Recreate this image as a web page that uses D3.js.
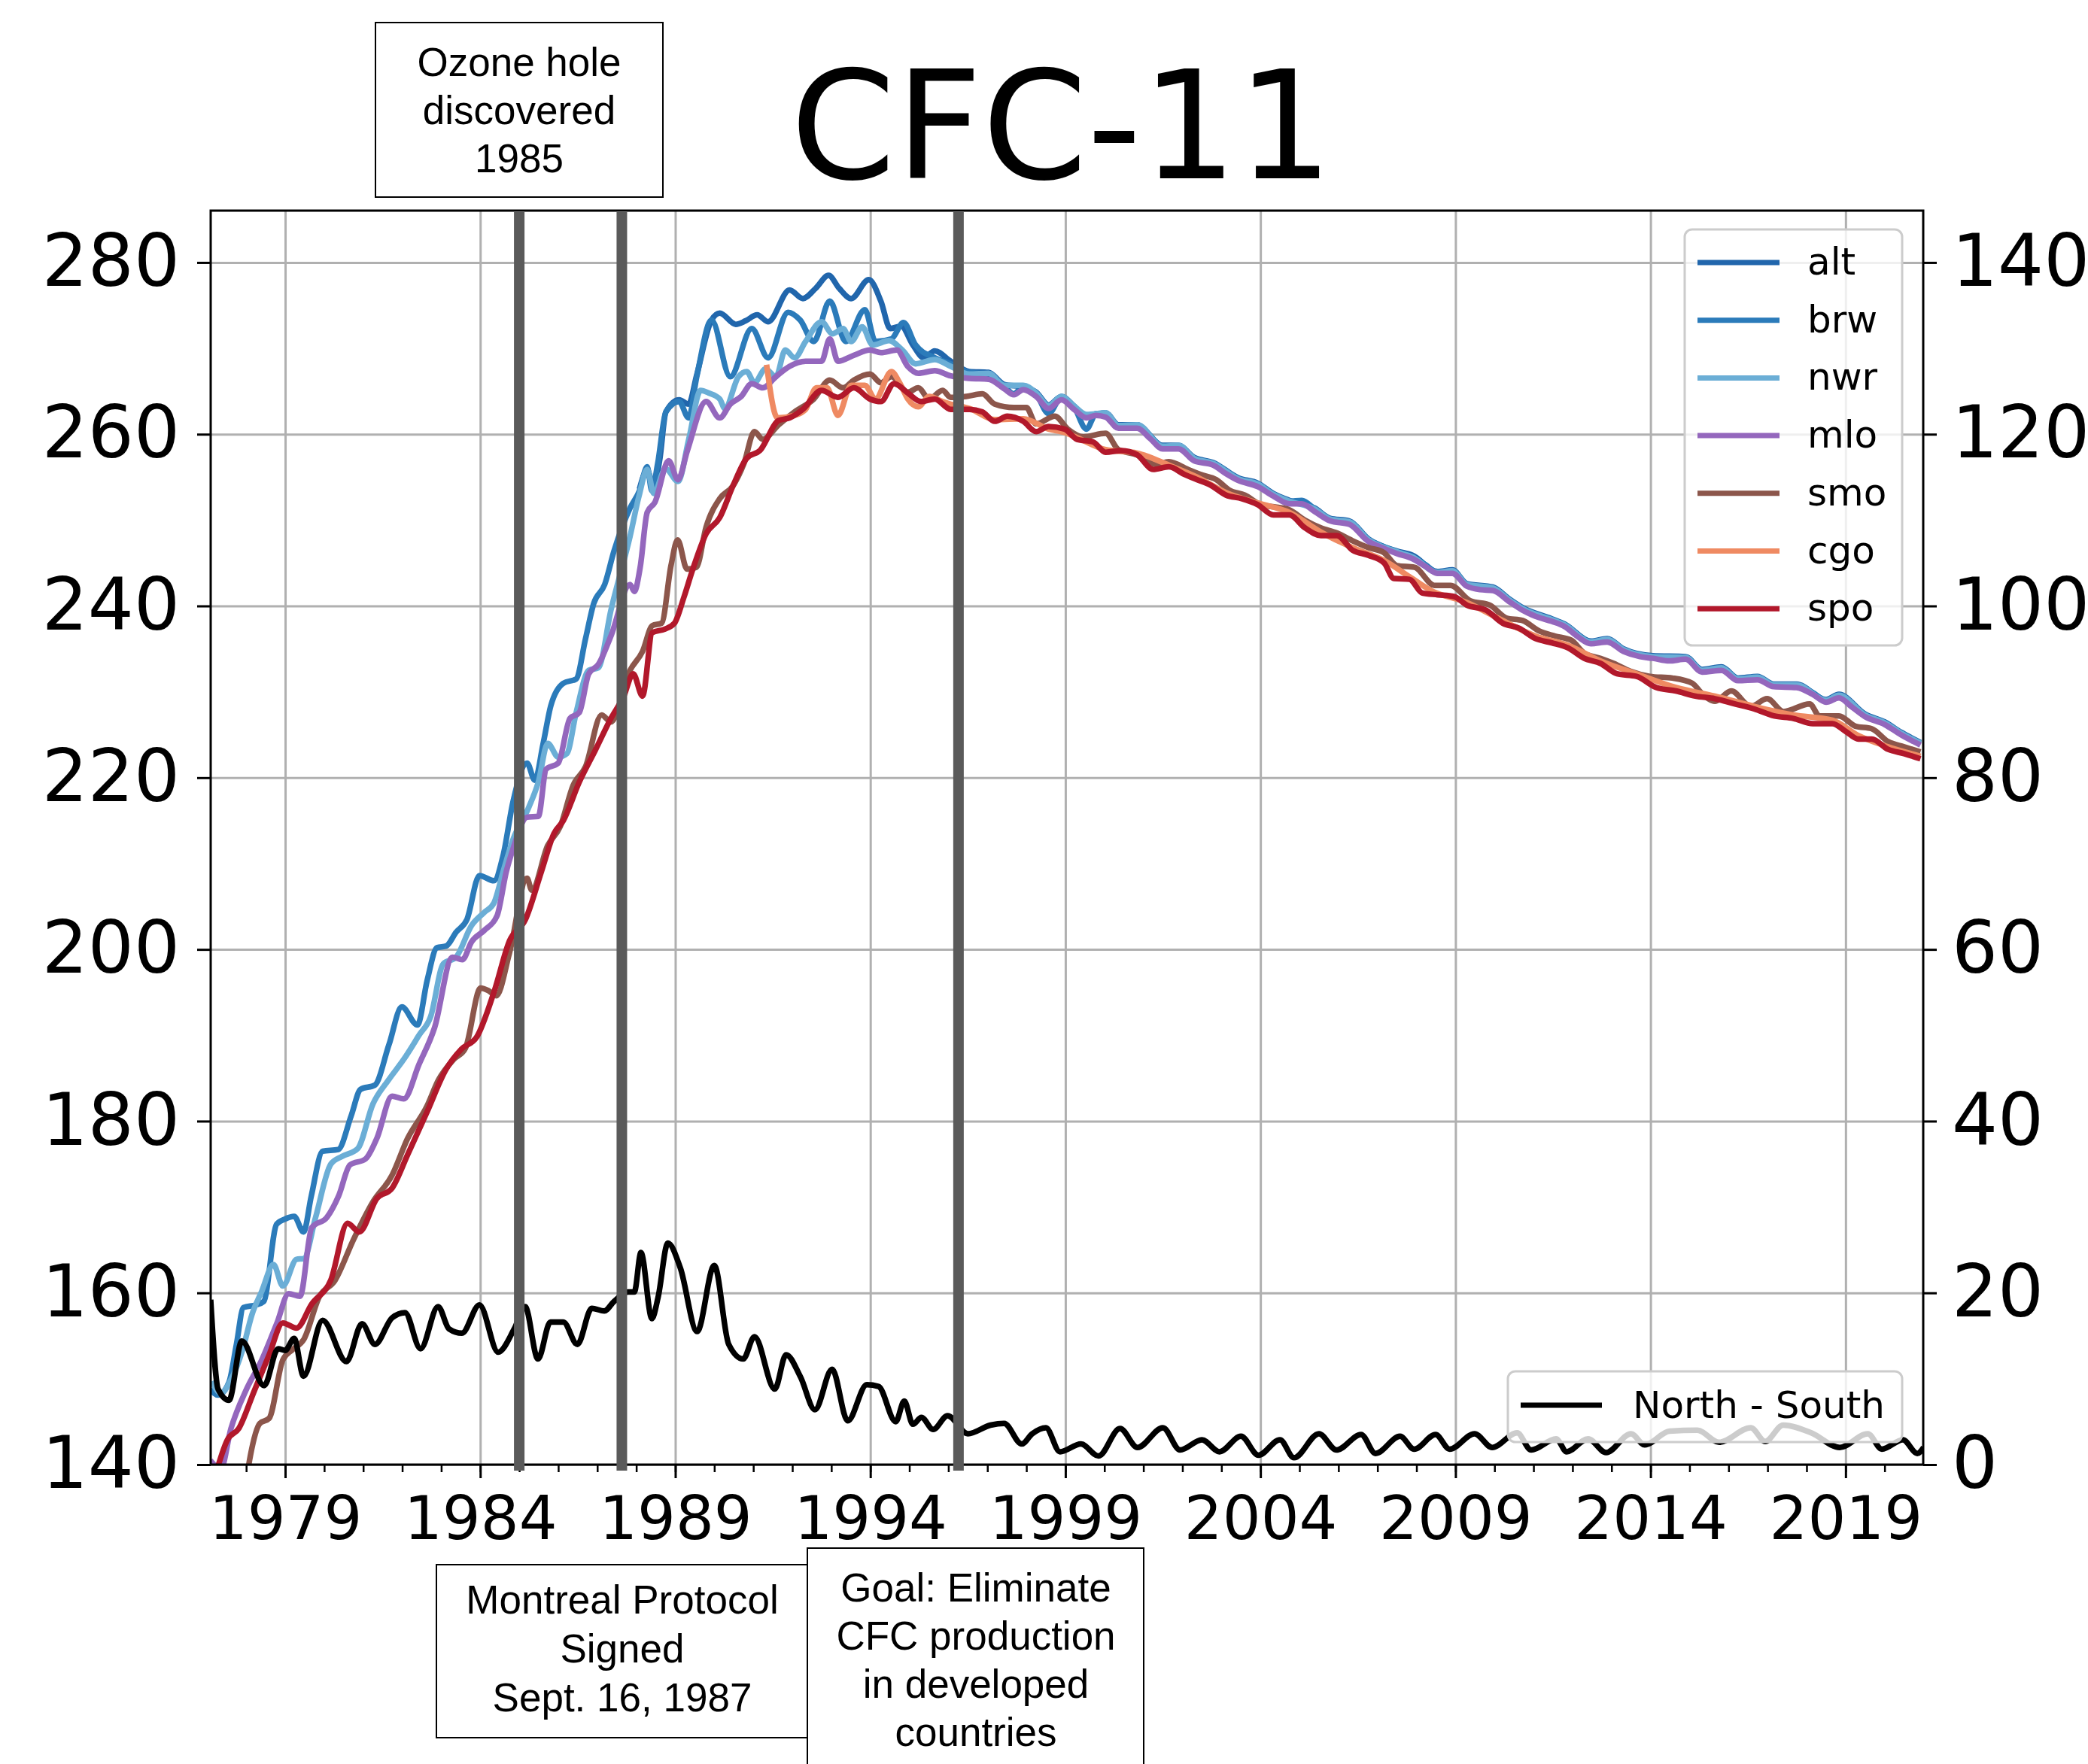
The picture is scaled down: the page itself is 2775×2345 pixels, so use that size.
<!DOCTYPE html>
<html>
<head>
<meta charset="utf-8">
<script src="https://cdn.jsdelivr.net/npm/d3@7/dist/d3.min.js"></script>
<style>
body { margin: 0; background: #fff; }
</style>
</head>
<body>
<script>

//station records, [decimal year, ppt]
var alt = [[1988.08,253.6],[1988.28,255.8],[1988.45,254.0],[1988.6,257.0],[1988.76,262.6],[1989.1,264.0],[1989.34,263.5],[1989.55,266.9],[1989.93,273.3],[1990.14,274.1],[1990.55,272.8],[1990.8,273.2],[1991.1,273.9],[1991.38,273.1],[1991.93,276.8],[1992.27,275.8],[1992.6,277.0],[1992.93,278.5],[1993.2,277.0],[1993.51,275.8],[1993.96,278.0],[1994.27,275.5],[1994.51,272.3],[1994.79,272.6],[1995.09,270.4],[1995.37,268.9],[1995.65,269.7],[1996.06,268.5],
    [1996.54,267.3],[1997.03,267.2],[1997.43,265.8],[1997.92,265.5],[1998.25,264.9],[1998.57,263.4],[1998.9,264.4],[1999.22,263.3],[1999.54,262.0],[2000.03,262.5],[2000.36,261.1],[2000.84,261.1],[2001.49,258.7],[2001.9,258.7],[2002.3,257.3],[2002.79,256.7],[2003.44,254.9],[2003.93,254.3],[2004.33,253.1],[2004.74,252.3],[2005.39,251.4],[2005.79,250.2],[2006.28,249.9],[2006.77,247.8],[2007.5,246.4],[2007.9,245.9],[2008.54,244.0],[2008.92,244.2],[2009.29,242.6],[2009.96,242.2],[2010.38,240.8],[2010.72,239.8],[2011.47,238.5],[2011.8,237.9],[2012.47,235.9],[2012.89,236.2],[2013.31,235.0],[2014.06,234.2],[2014.9,234.1],[2015.32,232.6],[2015.82,232.9],[2016.24,231.6],[2016.74,231.8],[2017.16,230.9],[2017.74,230.9],[2018.5,229.1],[2018.83,229.7],[2019.5,227.4],[2020.0,226.5],[2020.42,225.3],[2020.92,224.1]];

var brw = [[1977.08,148.8],[1977.28,148.1],[1977.56,149.6],[1977.75,154.0],[1977.93,158.3],[1978.25,158.6],[1978.45,159.0],[1978.78,168.0],[1979.0,168.6],[1979.23,168.9],[1979.47,167.1],[1979.67,171.3],[1979.96,176.5],[1980.36,176.7],[1980.69,180.6],[1980.93,183.7],[1981.3,184.2],[1981.66,188.9],[1981.99,193.3],[1982.39,191.2],[1982.64,196.4],[1982.89,200.2],[1983.13,200.4],[1983.38,202.0],[1983.66,203.5],[1983.98,208.6],[1984.35,208.0],[1984.59,211.0],[1984.84,217.2],[1985.2,221.7],[1985.4,219.7],[1985.61,223.9],[1985.81,228.4],[1986.13,231.0],[1986.46,231.5],[1986.7,236.2],[1986.91,240.3],[1987.19,242.5],[1987.43,246.4],[1987.84,251.4],[1988.08,253.4],[1988.28,256.2],[1988.4,253.4],[1988.55,256.6],[1988.76,262.6],[1989.1,263.8],[1989.34,261.9],[1989.55,266.7],[1989.93,273.3],[1990.41,266.7],[1990.96,272.3],[1991.38,268.9],[1991.89,274.2],[1992.2,273.3],[1992.55,270.8],[1992.96,275.5],[1993.37,270.8],[1993.86,274.5],[1994.13,270.8],[1994.54,271.1],[1994.85,273.0],[1995.16,270.4],[1995.65,268.9],[1996.06,268.2],
    [1996.54,267.2],[1997.03,267.0],[1997.43,265.6],[1997.68,264.7],[1997.92,265.6],[1998.25,264.7],[1998.57,262.4],[1998.9,264.3],[1999.22,263.2],[1999.54,260.6],[1999.79,262.4],[2000.03,262.4],[2000.36,261.0],[2000.84,261.0],[2001.17,259.8],[2001.49,258.6],[2001.9,258.6],[2002.3,257.2],[2002.79,256.6],[2003.12,255.7],[2003.44,254.8],[2003.93,254.2],[2004.33,253.0],[2004.74,252.2],[2005.06,252.3],[2005.39,251.3],[2005.79,250.0],[2006.28,249.8],[2006.77,247.7],[2007.01,247.2],[2007.5,246.3],[2007.9,245.7],[2008.23,244.8],[2008.54,243.9],[2008.92,244.1],[2009.29,242.4],[2009.63,242.2],[2009.96,242.0],[2010.38,240.7],[2010.72,239.7],[2011.05,239.0],[2011.47,238.4],[2011.8,237.8],[2012.14,236.6],[2012.47,235.8],[2012.89,236.1],[2013.31,234.9],[2013.73,234.3],[2014.06,234.1],[2014.48,233.9],[2014.9,234.0],[2015.32,232.5],[2015.82,232.8],[2016.24,231.5],[2016.74,231.7],[2017.16,230.8],[2017.74,230.8],[2018.16,229.9],[2018.5,229.0],[2018.83,229.6],[2019.17,228.4],[2019.5,227.3],[2020.0,226.4],[2020.42,225.2],[2020.92,224.0]];

var nwr = [[1977.12,149.7],[1977.35,148.3],[1977.6,149.8],[1977.91,153.4],[1978.15,157.5],[1978.4,160.2],[1978.7,163.3],[1978.94,160.8],[1979.29,163.9],[1979.48,164.0],[1979.78,168.8],[1980.17,175.0],[1980.46,175.9],[1980.86,176.8],[1981.25,182.0],[1981.65,184.8],[1982.04,187.2],[1982.43,190.0],[1982.73,192.2],[1983.05,198.3],[1983.38,199.1],[1983.78,202.8],[1984.1,204.3],[1984.35,205.4],[1984.59,209.1],[1984.84,212.8],[1985.24,216.5],[1985.49,219.5],[1985.73,224.0],[1986.0,222.4],[1986.22,222.8],[1986.46,227.6],[1986.78,232.5],[1987.03,232.8],[1987.35,239.5],[1987.84,248.1],[1988.07,252.8],[1988.28,255.9],[1988.45,253.1],[1988.75,256.0],[1989.07,254.5],[1989.35,259.5],[1989.65,265.1],[1989.86,264.8],[1990.14,264.1],[1990.27,263.0],[1990.62,266.7],[1990.83,267.3],[1991.03,266.0],[1991.31,267.6],[1991.58,266.7],[1991.82,269.8],[1992.06,268.9],[1992.34,270.8],[1992.75,273.1],[1993.03,271.7],[1993.3,272.3],[1993.51,270.8],[1993.79,272.5],[1994.06,270.4],[1994.48,270.9],[1994.82,269.8],[1995.16,268.2],[1995.65,268.7],[1996.06,267.9],
    [1996.54,267.0],[1997.03,267.1],[1997.43,265.7],[1997.92,265.7],[1998.25,264.8],[1998.57,263.3],[1998.9,264.4],[1999.22,263.3],[1999.54,262.3],[2000.03,262.5],[2000.36,261.0],[2000.84,261.1],[2001.49,258.6],[2001.9,258.7],[2002.3,257.2],[2002.79,256.6],[2003.44,254.8],[2003.93,254.2],[2004.33,253.0],[2004.74,252.2],[2005.39,251.3],[2005.79,250.1],[2006.28,249.8],[2006.77,247.7],[2007.5,246.3],[2007.9,245.7],[2008.54,243.9],[2008.92,244.1],[2009.29,242.5],[2009.96,242.1],[2010.38,240.7],[2010.72,239.7],[2011.47,238.4],[2011.8,237.8],[2012.47,235.8],[2012.89,236.1],[2013.31,234.9],[2014.06,234.1],[2014.9,234.0],[2015.32,232.5],[2015.82,232.8],[2016.24,231.5],[2016.74,231.7],[2017.16,230.8],[2017.74,230.8],[2018.5,229.0],[2018.83,229.6],[2019.5,227.3],[2020.0,226.4],[2020.42,225.2],[2020.92,224.0]];

var mlo = [[1977.08,140.5],[1977.35,139.5],[1977.61,144.2],[1978.01,148.8],[1978.4,152.2],[1978.79,156.5],[1979.09,159.9],[1979.38,159.6],[1979.68,167.6],[1980.07,168.8],[1980.37,171.3],[1980.66,174.9],[1981.06,175.6],[1981.35,178.0],[1981.74,182.9],[1982.04,182.6],[1982.43,186.6],[1982.83,190.9],[1983.29,199.1],[1983.54,198.8],[1983.78,200.9],[1984.1,202.2],[1984.43,203.9],[1984.67,209.1],[1984.84,211.7],[1985.2,215.4],[1985.49,215.5],[1985.69,221.0],[1986.0,221.7],[1986.3,226.9],[1986.54,227.6],[1986.78,232.1],[1987.03,233.2],[1987.35,236.5],[1987.84,242.5],[1987.95,241.7],[1988.1,244.5],[1988.28,250.9],[1988.48,252.1],[1988.83,256.9],[1989.07,254.7],[1989.31,258.1],[1989.79,263.8],[1990.14,261.9],[1990.41,263.5],[1990.69,264.4],[1990.96,265.9],[1991.24,265.4],[1991.58,266.7],[1991.93,267.9],[1992.34,268.5],[1992.75,268.5],[1992.96,271.1],[1993.17,268.5],[1993.58,269.2],[1993.99,269.8],[1994.27,269.5],[1994.68,269.8],[1994.96,267.9],[1995.23,267.1],[1995.65,267.4],[1996.06,266.8],
    [1996.54,266.5],[1997.03,266.4],[1997.43,265.3],[1997.68,264.6],[1997.92,265.2],[1998.25,264.4],[1998.57,263.0],[1998.9,264.0],[1999.22,262.9],[1999.54,261.9],[1999.79,262.2],[2000.03,262.0],[2000.36,260.7],[2000.84,260.7],[2001.17,259.5],[2001.49,258.3],[2001.9,258.3],[2002.3,256.9],[2002.79,256.4],[2003.12,255.4],[2003.44,254.6],[2003.93,253.9],[2004.33,252.8],[2004.74,251.9],[2005.06,251.9],[2005.39,251.0],[2005.79,249.9],[2006.28,249.5],[2006.77,247.5],[2007.01,247.0],[2007.5,246.1],[2007.9,245.5],[2008.23,244.6],[2008.54,243.8],[2008.92,243.8],[2009.29,242.3],[2009.63,241.9],[2009.96,241.8],[2010.38,240.5],[2010.72,239.5],[2011.05,238.8],[2011.47,238.2],[2011.8,237.6],[2012.14,236.4],[2012.47,235.6],[2012.89,235.8],[2013.31,234.7],[2013.73,234.1],[2014.06,233.9],[2014.48,233.6],[2014.9,233.8],[2015.32,232.3],[2015.82,232.5],[2016.24,231.3],[2016.74,231.4],[2017.16,230.6],[2017.74,230.5],[2018.16,229.7],[2018.5,228.8],[2018.83,229.3],[2019.17,228.2],[2019.5,227.1],[2020.0,226.2],[2020.42,225.0],[2020.92,223.8]];

var smo = [[1977.95,136.5],[1978.11,141.1],[1978.35,144.8],[1978.59,145.4],[1978.94,152.2],[1979.19,153.4],[1979.48,154.6],[1979.88,159.6],[1980.27,161.4],[1980.76,166.3],[1981.25,170.6],[1981.74,173.7],[1982.14,178.0],[1982.63,181.7],[1982.93,184.8],[1983.32,187.2],[1983.62,188.5],[1984.01,195.5],[1984.21,195.2],[1984.41,194.6],[1984.75,199.6],[1985.2,208.3],[1985.32,206.9],[1985.73,212.1],[1986.05,214.3],[1986.38,219.1],[1986.7,221.3],[1987.11,227.3],[1987.35,226.5],[1987.84,232.5],[1988.16,234.7],[1988.41,237.7],[1988.65,238.0],[1988.89,244.7],[1989.06,247.7],[1989.3,244.3],[1989.54,244.5],[1989.79,249.2],[1990.14,252.5],[1990.48,254.0],[1990.76,256.6],[1991.03,260.3],[1991.24,259.4],[1991.65,261.1],[1992.06,262.6],[1992.55,264.1],[1992.96,266.3],[1993.3,265.4],[1993.58,266.3],[1993.99,267.0],[1994.27,266.0],[1994.54,266.7],[1994.96,264.9],[1995.23,265.4],[1995.51,264.1],[1995.85,265.1],[1996.06,264.3],
    [1996.46,264.4],[1996.87,264.7],[1997.19,263.5],[1997.68,263.1],[1998.0,263.1],[1998.25,261.2],[1998.73,262.1],[1999.06,260.6],[1999.46,259.7],[2000.03,260.1],[2000.36,258.2],[2000.84,257.6],[2001.33,256.5],[2001.65,256.8],[2002.14,255.9],[2002.47,255.3],[2002.87,254.7],[2003.2,253.5],[2003.6,252.9],[2004.01,251.8],[2004.41,251.5],[2004.74,251.2],[2005.14,250.0],[2005.55,249.1],[2005.96,248.5],[2006.36,247.6],[2006.77,246.8],[2007.17,246.2],[2007.5,244.7],[2007.95,244.5],[2008.46,242.4],[2008.87,242.4],[2009.38,240.6],[2009.88,240.1],[2010.3,238.6],[2010.72,238.3],[2011.14,237.1],[2011.55,236.5],[2011.97,236.0],[2012.3,234.5],[2012.72,233.9],[2013.06,233.3],[2013.48,232.4],[2013.98,231.8],[2014.56,231.6],[2015.07,231.0],[2015.32,229.8],[2015.65,228.9],[2016.07,230.1],[2016.57,228.3],[2016.99,229.2],[2017.41,227.7],[2018.08,228.6],[2018.33,227.2],[2018.83,227.2],[2019.25,226.0],[2019.67,225.7],[2020.09,224.2],[2020.5,223.6],[2020.92,223.0]];

var cgo = [[1991.34,268.1],[1991.62,261.9],[1992.06,262.2],[1992.34,262.9],[1992.62,265.4],[1992.89,265.4],[1993.17,262.2],[1993.51,265.7],[1993.86,265.7],[1994.13,264.1],[1994.54,267.3],[1994.75,266.0],[1994.96,264.1],[1995.23,263.2],[1995.51,264.4],[1995.85,263.8],[1996.06,263.5],
    [1996.54,263.0],[1997.19,261.7],[1997.92,261.8],[1998.57,260.6],[1998.98,260.2],[1999.3,259.6],[2000.03,258.2],[2000.84,257.8],[2001.65,256.4],[2002.38,255.0],[2003.12,253.2],[2003.93,252.0],[2004.74,250.9],[2005.55,248.6],[2006.36,246.8],[2007.17,245.3],[2007.82,243.4],[2008.37,241.8],[2009.29,240.4],[2010.21,238.3],[2011.05,236.5],[2011.89,235.4],[2012.72,233.6],[2013.64,232.1],[2014.65,230.5],[2015.65,229.5],[2016.66,228.3],[2017.66,227.3],[2018.66,226.7],[2019.33,224.9],[2020.09,223.6],[2020.92,222.5]];

var spo = [[1977.2,138.6],[1977.52,142.9],[1977.81,144.2],[1978.2,148.5],[1978.59,152.8],[1978.94,156.5],[1979.29,155.9],[1979.68,158.7],[1980.17,161.5],[1980.6,168.1],[1980.9,167.1],[1981.35,171.0],[1981.74,172.2],[1982.14,176.1],[1982.63,181.0],[1983.12,186.0],[1983.52,188.4],[1983.91,189.8],[1984.35,195.0],[1984.75,201.0],[1985.16,203.5],[1985.57,209.1],[1985.89,213.5],[1986.13,215.0],[1986.54,219.5],[1986.95,223.2],[1987.35,226.9],[1987.68,229.5],[1987.92,232.1],[1988.16,229.5],[1988.41,236.9],[1988.73,237.3],[1988.98,238.0],[1989.22,241.0],[1989.45,244.3],[1989.79,248.4],[1990.14,250.3],[1990.48,254.0],[1990.83,257.2],[1991.17,258.1],[1991.65,261.6],[1991.93,261.9],[1992.27,262.9],[1992.75,265.1],[1993.17,264.3],[1993.58,265.4],[1993.99,264.1],[1994.27,263.8],[1994.61,265.9],[1994.96,264.8],[1995.3,263.8],[1995.65,264.1],[1996.06,262.9],
    [1996.54,262.9],[1996.87,262.6],[1997.19,261.5],[1997.51,262.1],[1997.92,261.5],[1998.25,260.3],[1998.57,260.9],[1998.98,260.6],[1999.3,259.4],[1999.71,259.1],[2000.03,257.9],[2000.44,258.1],[2000.84,257.6],[2001.25,255.9],[2001.65,256.2],[2002.06,255.3],[2002.38,254.7],[2002.71,254.1],[2003.12,252.9],[2003.52,252.5],[2003.93,251.8],[2004.33,250.6],[2004.74,250.6],[2005.14,249.1],[2005.55,248.2],[2005.96,248.2],[2006.36,246.5],[2006.77,245.9],[2007.17,245.0],[2007.42,243.2],[2007.82,243.1],[2008.15,241.5],[2008.54,241.3],[2008.96,241.1],[2009.29,240.1],[2009.79,239.5],[2010.21,238.0],[2010.63,237.4],[2011.05,236.2],[2011.47,235.7],[2011.89,235.1],[2012.3,233.9],[2012.72,233.3],[2013.14,232.1],[2013.64,231.8],[2014.15,230.5],[2014.65,230.1],[2015.15,229.5],[2015.65,229.2],[2016.15,228.6],[2016.66,228.0],[2017.16,227.2],[2017.66,226.9],[2018.16,226.3],[2018.66,226.3],[2019.0,225.4],[2019.33,224.5],[2019.67,224.5],[2020.09,223.3],[2020.5,222.8],[2020.92,222.2]];

//north minus south difference, right axis
var northSouth = [[1977.09,19.2],[1977.28,8.8],[1977.56,7.5],[1977.89,14.4],[1978.46,9.2],[1978.82,13.5],[1979.0,13.3],[1979.23,14.7],[1979.47,10.3],[1979.96,16.8],[1980.57,12.0],[1980.97,16.4],[1981.3,14.0],[1981.74,17.1],[1982.07,17.7],[1982.47,13.5],[1982.92,18.4],[1983.2,15.8],[1983.53,15.3],[1983.98,18.6],[1984.46,13.1],[1984.87,15.8],[1985.15,18.4],[1985.48,12.3],[1985.8,16.6],[1986.13,16.6],[1986.49,14.0],[1986.86,18.2],[1987.18,17.9],[1987.43,19.0],[1987.79,20.1],[1987.95,20.1],[1988.12,24.7],[1988.4,17.0],[1988.56,19.5],[1988.81,25.8],[1989.13,22.9],[1989.56,15.5],[1990.0,23.2],[1990.37,14.0],[1990.74,12.3],[1991.03,14.9],[1991.55,8.8],[1991.84,12.8],[1992.21,10.2],[1992.58,6.4],[1993.02,11.1],[1993.42,5.1],[1993.91,9.3],[1994.21,9.1],[1994.65,5.0],[1994.87,7.4],[1995.09,4.7],[1995.31,5.5],[1995.61,4.1],[1995.98,5.7],[1996.5,3.6],[1997.08,4.6],[1997.43,4.8],[1997.88,2.4],[1998.15,3.6],[1998.5,4.3],[1998.86,1.5],[1999.4,2.4],[1999.85,1.0],[2000.4,4.2],[2000.85,2.0],[2001.5,4.3],[2001.94,1.7],[2002.5,2.9],[2002.95,1.5],[2003.5,3.3],[2003.95,1.1],[2004.5,2.9],[2004.86,0.8],[2005.5,3.6],[2005.95,1.7],[2006.58,3.5],[2006.95,1.3],[2007.58,3.3],[2007.94,1.8],[2008.49,3.5],[2008.85,1.8],[2009.49,3.6],[2009.94,2.0],[2010.58,3.7],[2010.94,1.7],[2011.58,3.0],[2011.85,1.5],[2012.4,3.0],[2012.86,1.4],[2013.5,3.6],[2013.85,2.3],[2014.49,3.9],[2015.2,4.0],[2015.76,2.6],[2016.57,4.3],[2016.94,2.7],[2017.4,4.6],[2018.12,3.7],[2018.85,2.0],[2019.57,3.6],[2019.93,1.8],[2020.47,2.9],[2020.84,1.3],[2021.0,2.0]];

var stationNames = ["alt", "brw", "nwr", "mlo", "smo", "cgo", "spo"];
var stationColors = ["#2166ac", "#2b7bba", "#6baed6", "#9467bd", "#8c564b", "#ef8a62", "#b2182b"];

//axis ticks
var yearTicks = [1979, 1984, 1989, 1994, 1999, 2004, 2009, 2014, 2019];
var minorYears = d3.range(1978, 2021);
var leftTicks = [140, 160, 180, 200, 220, 240, 260, 280];
var rightTicks = [0, 20, 40, 60, 80, 100, 120, 140];

//policy events, vertical bars
var eventYears = [1985.0, 1987.63, 1996.26];
var ozoneText = ["Ozone hole", "discovered", "1985"];
var montrealText = ["Montreal Protocol", "Signed", "Sept. 16, 1987"];
var goalText = ["Goal: Eliminate", "CFC production", "in developed", "countries"];

window.onload = drawChart;

function drawChart(){

    var width = 2775,
        height = 2345;

    //plot frame
    var left = 280, right = 2556, top = 280, bottom = 1947;

    var svg = d3.select("body")
        .append("svg")
        .attr("width", width)
        .attr("height", height)
        .style("background", "#fff");

    var x = d3.scaleLinear()
        .domain([1977.09, 2020.99])
        .range([left, right]);

    var y = d3.scaleLinear()
        .domain([140, 286.04])
        .range([bottom, top]);

    var yRight = d3.scaleLinear()
        .domain([0, 146.04])
        .range([bottom, top]);

    svg.append("clipPath")
        .attr("id", "plotClip")
        .append("rect")
        .attr("x", left)
        .attr("y", top)
        .attr("width", right - left)
        .attr("height", bottom - top);

    //grid
    var xGrid = svg.append("g")
        .attr("transform", "translate(0," + bottom + ")")
        .call(d3.axisBottom(x).tickValues(yearTicks).tickSize(-(bottom - top)).tickFormat(""));
    var yGrid = svg.append("g")
        .attr("transform", "translate(" + left + ",0)")
        .call(d3.axisLeft(y).tickValues(leftTicks).tickSize(-(right - left)).tickFormat(""));
    [xGrid, yGrid].forEach(function(g){
        g.select(".domain").remove();
        g.selectAll("line").attr("stroke", "#b0b0b0").attr("stroke-width", 3);
    });

    //station lines
    var line = d3.line()
        .curve(d3.curveMonotoneX)
        .x(function(d){ return x(d[0]); })
        .y(function(d){ return y(d[1]); });

    var series = [alt, brw, nwr, mlo, smo, cgo, spo];

    svg.append("g")
        .attr("clip-path", "url(#plotClip)")
        .selectAll(".station")
        .data(series)
        .enter()
        .append("path")
        .attr("class", "station")
        .attr("d", line)
        .attr("fill", "none")
        .attr("stroke", function(d, i){ return stationColors[i]; })
        .attr("stroke-width", 7.5)
        .attr("stroke-linejoin", "round");

    //station legend
    var legend = svg.append("g");
    legend.append("rect")
        .attr("x", 2239).attr("y", 305)
        .attr("width", 289).attr("height", 553)
        .attr("rx", 10)
        .attr("fill", "#fff").attr("fill-opacity", 0.8)
        .attr("stroke", "#cccccc").attr("stroke-width", 3);
    var entries = legend.selectAll(".entry")
        .data(stationNames)
        .enter()
        .append("g")
        .attr("transform", function(d, i){ return "translate(0," + (349 + i * 76.7) + ")"; });
    entries.append("line")
        .attr("x1", 2256).attr("x2", 2365)
        .attr("stroke", function(d, i){ return stationColors[i]; })
        .attr("stroke-width", 7);
    entries.append("text")
        .attr("x", 2402).attr("y", 16)
        .attr("font-family", "DejaVu Sans")
        .attr("font-size", 50)
        .text(function(d){ return d; });

    //north - south line on the right axis
    var nsLine = d3.line()
        .curve(d3.curveMonotoneX)
        .x(function(d){ return x(d[0]); })
        .y(function(d){ return yRight(d[1]); });

    svg.append("path")
        .datum(northSouth)
        .attr("clip-path", "url(#plotClip)")
        .attr("d", nsLine)
        .attr("fill", "none")
        .attr("stroke", "#000")
        .attr("stroke-width", 7.5)
        .attr("stroke-linejoin", "round");

    var nsLegend = svg.append("g");
    nsLegend.append("rect")
        .attr("x", 2004).attr("y", 1823)
        .attr("width", 524).attr("height", 94)
        .attr("rx", 10)
        .attr("fill", "#fff").attr("fill-opacity", 0.8)
        .attr("stroke", "#cccccc").attr("stroke-width", 3);
    nsLegend.append("line")
        .attr("x1", 2021).attr("x2", 2129)
        .attr("y1", 1868).attr("y2", 1868)
        .attr("stroke", "#000").attr("stroke-width", 7);
    nsLegend.append("text")
        .attr("x", 2170).attr("y", 1885)
        .attr("font-family", "DejaVu Sans")
        .attr("font-size", 50)
        .text("North - South");

    //axes
    var xAxis = svg.append("g")
        .attr("transform", "translate(0," + bottom + ")")
        .call(d3.axisBottom(x).tickValues(yearTicks).tickSize(18).tickSizeOuter(0).tickPadding(24).tickFormat(d3.format("d")));
    var xMinor = svg.append("g")
        .attr("transform", "translate(0," + bottom + ")")
        .call(d3.axisBottom(x).tickValues(minorYears).tickSize(10).tickSizeOuter(0).tickFormat(""));
    var yAxis = svg.append("g")
        .attr("transform", "translate(" + left + ",0)")
        .call(d3.axisLeft(y).tickValues(leftTicks).tickSize(18).tickSizeOuter(0).tickPadding(23));
    var yAxisRight = svg.append("g")
        .attr("transform", "translate(" + right + ",0)")
        .call(d3.axisRight(yRight).tickValues(rightTicks).tickSize(18).tickSizeOuter(0).tickPadding(20));

    [xAxis, xMinor, yAxis, yAxisRight].forEach(function(g){
        g.select(".domain").remove();
        g.selectAll("line").attr("stroke", "#000").attr("stroke-width", 3);
        g.selectAll("text").attr("fill", "#000");
        g.attr("font-family", "DejaVu Sans");
    });
    xMinor.selectAll("line").attr("stroke-width", 2.5);
    xAxis.attr("font-size", 80);
    yAxis.attr("font-size", 96);
    yAxisRight.attr("font-size", 96);

    svg.append("rect")
        .attr("x", left).attr("y", top)
        .attr("width", right - left).attr("height", bottom - top)
        .attr("fill", "none")
        .attr("stroke", "#000")
        .attr("stroke-width", 3);

    //event bars
    svg.selectAll(".event")
        .data(eventYears)
        .enter()
        .append("line")
        .attr("class", "event")
        .attr("x1", function(d){ return x(d); })
        .attr("x2", function(d){ return x(d); })
        .attr("y1", top + 2)
        .attr("y2", bottom + 8)
        .attr("stroke", "#5a5a5a")
        .attr("stroke-width", 14);

    //title
    svg.append("text")
        .attr("x", 1411).attr("y", 237)
        .attr("text-anchor", "middle")
        .attr("font-family", "DejaVu Sans")
        .attr("font-size", 200)
        .text("CFC-11");

    //annotation boxes
    function noteBox(bx, by, bw, bh, lines, cx, firstBaseline, step){
        var g = svg.append("g");
        g.append("rect")
            .attr("x", bx).attr("y", by)
            .attr("width", bw).attr("height", bh)
            .attr("fill", "#fff")
            .attr("stroke", "#000")
            .attr("stroke-width", 2);
        g.selectAll("text")
            .data(lines)
            .enter()
            .append("text")
            .attr("x", cx)
            .attr("y", function(d, i){ return firstBaseline + i * step; })
            .attr("text-anchor", "middle")
            .attr("font-family", "Liberation Sans, Arial, sans-serif")
            .attr("font-size", 53)
            .text(function(d){ return d; });
    }

    noteBox(499, 30, 382, 232, ozoneText, 690, 101, 64);
    noteBox(580, 2080, 494, 230, montrealText, 827, 2145, 65);
    noteBox(1073, 2058, 447, 300, goalText, 1297, 2129, 64);
}
</script>
</body>
</html>
